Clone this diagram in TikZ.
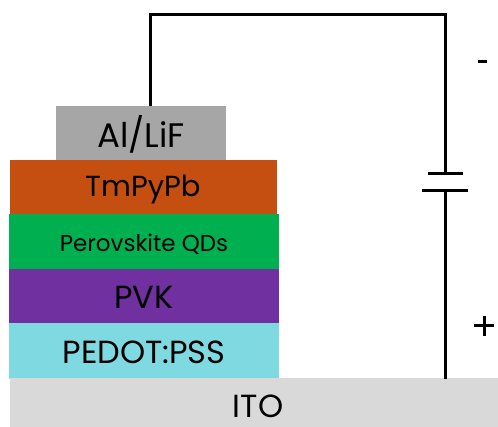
\documentclass[tikz,border=0pt]{standalone}
\usepackage{fontspec}
\setmainfont{Poppins}
\definecolor{alc}{HTML}{A6A6A6}
\definecolor{tmc}{HTML}{C44F11}
\definecolor{grc}{HTML}{00B050}
\definecolor{puc}{HTML}{7030A0}
\definecolor{pec}{HTML}{7FD9E0}
\definecolor{itc}{HTML}{D9D9D9}
\tikzset{
  layerbox/.style={anchor=north west,inner sep=0pt,outer sep=0pt,minimum width=#1,text=black},
  labeltxt/.style={inner sep=0pt,font=\fontsize{#1}{#1}\selectfont},
  wire/.style={draw=black,line width=3pt},
  plate/.style={wire,line cap=butt}
}
\begin{document}
\begin{tikzpicture}[x=1pt,y=-1pt]
\useasboundingbox (0,0) rectangle (498,427);
\node[layerbox=170pt,fill=alc,minimum height=54pt] (al) at (56,106) {};
\node[layerbox=267pt,fill=tmc,minimum height=54pt] (tm) at (10,160) {};
\node[layerbox=270pt,fill=grc,minimum height=55pt] (qd) at (9,214) {};
\node[layerbox=270pt,fill=puc,minimum height=54pt] (pvk) at (9,269) {};
\node[layerbox=270pt,fill=pec,minimum height=56pt] (ped) at (9,323) {};
\node[layerbox=488pt,fill=itc,minimum height=48.5pt] (ito) at (10,378.5) {};
\node[labeltxt=34] (t1) at (141,134) {Al/LiF};
\node[labeltxt=29] (t2) at (143,190) {TmPyPb};
\node[labeltxt=23] (t3) at (144,244) {Perovskite QDs};
\node[labeltxt=32] (t4) at (144,297) {PVK};
\node[labeltxt=32] (t5) at (144,352) {PEDOT:PSS};
\node[labeltxt=32] (t6) at (258,406) {ITO};
\coordinate (top) at (150,106);
\coordinate (c1) at (150,15);
\coordinate (c2) at (445,15);
\coordinate (pa) at (445,173.5);
\coordinate (pb) at (445,191);
\coordinate (bot) at (445,379);
\draw[wire,line join=miter] (top) -- (c1) -- (c2) -- (pa);
\draw[wire] (pb) -- (bot);
\draw[plate] (428,173.5) -- (463,173.5);
\draw[plate] (422,191) -- (468,191);
\draw[plate] (478,62) -- (487,62);
\draw[plate] (474,326) -- (494,326);
\draw[plate] (484,316) -- (484,336);
\end{tikzpicture}
\end{document}
